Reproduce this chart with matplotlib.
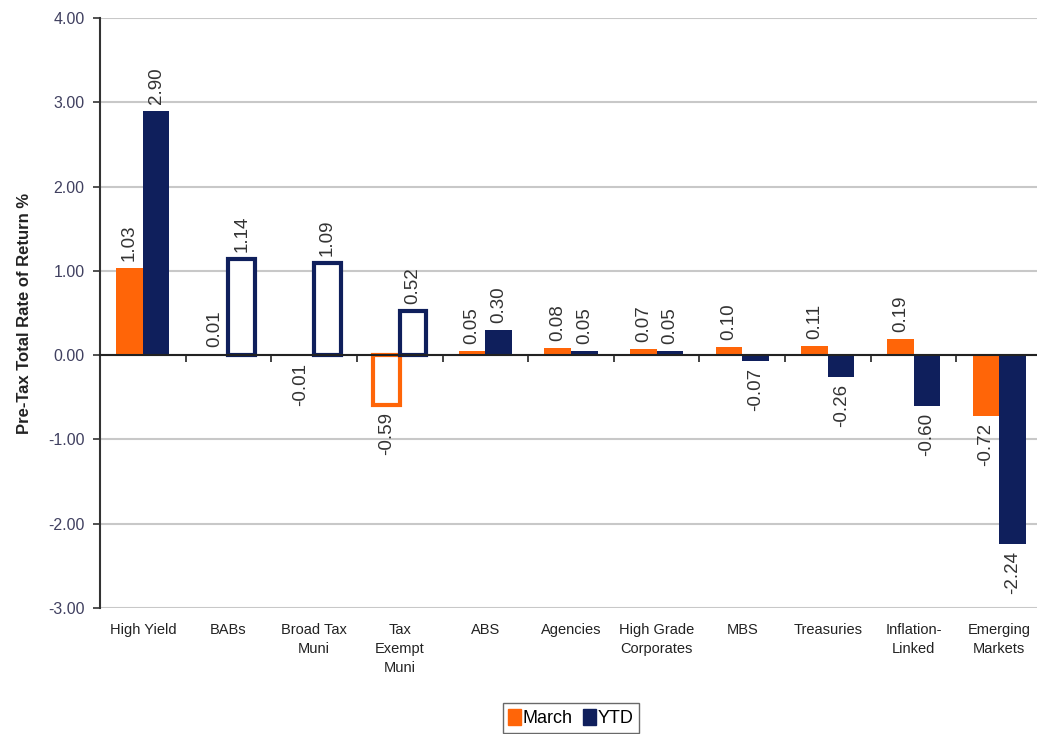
import numpy as np
import matplotlib.pyplot as plt
from matplotlib.patches import Patch
import matplotlib.transforms as mtransforms

categories = ['High Yield', 'BABs', 'Broad Tax\nMuni', 'Tax\nExempt\nMuni', 'ABS',
              'Agencies', 'High Grade\nCorporates', 'MBS', 'Treasuries',
              'Inflation-\nLinked', 'Emerging\nMarkets']
march = [1.03, 0.01, -0.01, -0.59, 0.05, 0.08, 0.07, 0.10, 0.11, 0.19, -0.72]
ytd = [2.90, 1.14, 1.09, 0.52, 0.30, 0.05, 0.05, -0.07, -0.26, -0.60, -2.24]
# bars drawn as outlines only in the original
march_hollow = [False, False, False, True, False, False, False, False, False, False, False]
ytd_hollow = [False, True, True, True, False, False, False, False, False, False, False]
yticks = [4, 3, 2, 1, 0, -1, -2, -3]

ORANGE = '#FF6508'
NAVY = '#0F1F5C'
TEXT = '#333333'

plt.rcParams['font.family'] = ['Liberation Sans', 'DejaVu Sans']

W, H = 1037, 734
fig = plt.figure(figsize=(W / 100, H / 100), dpi=100)
left, right, top, bottom = 100, 1042, 18, 608
ax = fig.add_axes([left / W, 1 - bottom / H, (right - left) / W, (bottom - top) / H])

x = np.arange(len(categories))
bw = 0.31


def draw_series(offset, values, hollow, color):
    for xi, v, h in zip(x, values, hollow):
        if h:
            ax.bar(xi + offset, v, bw, facecolor='white', edgecolor=color, linewidth=3, zorder=3)
        else:
            ax.bar(xi + offset, v, bw, color=color, zorder=3)
        ax.annotate(f'{v:.2f}', (xi + offset, v), xytext=(0, 5 if v >= 0 else -5),
                    textcoords='offset points', rotation=90, ha='center',
                    va='bottom' if v >= 0 else 'top', fontsize=13.5, color=TEXT)


draw_series(-bw / 2, march, march_hollow, ORANGE)
draw_series(bw / 2, ytd, ytd_hollow, NAVY)

ax.set_xlim(-0.5, len(categories) - 0.5)
ax.set_ylim(-3, 4)
ax.set_yticks(yticks)
ax.set_yticklabels([f'{t:.2f}' for t in yticks], fontsize=11.5, color='#404060')
ax.yaxis.grid(True, color='#c8c8c8', linewidth=1.5, zorder=0)
ax.set_axisbelow(True)

for s in ['top', 'right']:
    ax.spines[s].set_visible(False)
ax.spines['left'].set_color('#333333')
ax.spines['left'].set_linewidth(1.5)
ax.spines['bottom'].set_position(('data', 0))
ax.spines['bottom'].set_color('#222222')
ax.spines['bottom'].set_linewidth(1.5)
ax.spines['bottom'].set_zorder(4)
ax.tick_params(axis='y', length=5, width=1.2, color='#333333', pad=6)

ax.set_xticks(x)
ax.set_xticklabels([])
ax.tick_params(axis='x', which='major', length=0)
ax.set_xticks(np.arange(0.5, len(categories) - 0.5), minor=True)
ax.tick_params(axis='x', which='minor', length=5, width=1.2, color='#222222')

trans = mtransforms.blended_transform_factory(ax.transData, ax.transAxes)
for xi, c in zip(x, categories):
    ax.text(xi, -0.025, c, transform=trans, ha='center', va='top', fontsize=10.5,
            color='#222222', linespacing=1.45)

ax.set_ylabel('Pre-Tax Total Rate of Return %', fontsize=12, fontweight='bold',
              color='#222222', labelpad=12)

handles = [Patch(color=ORANGE, label='March'), Patch(color=NAVY, label='YTD')]
fig.legend(handles=handles, loc='lower center', bbox_to_anchor=(571 / W, 0.002), ncol=2,
           fontsize=13, frameon=True, fancybox=False, edgecolor='#444444',
           handlelength=0.7, handleheight=1.0, handletextpad=0.1, columnspacing=0.6,
           borderpad=0.3, borderaxespad=0)

fig.savefig('out.png', dpi=100)
